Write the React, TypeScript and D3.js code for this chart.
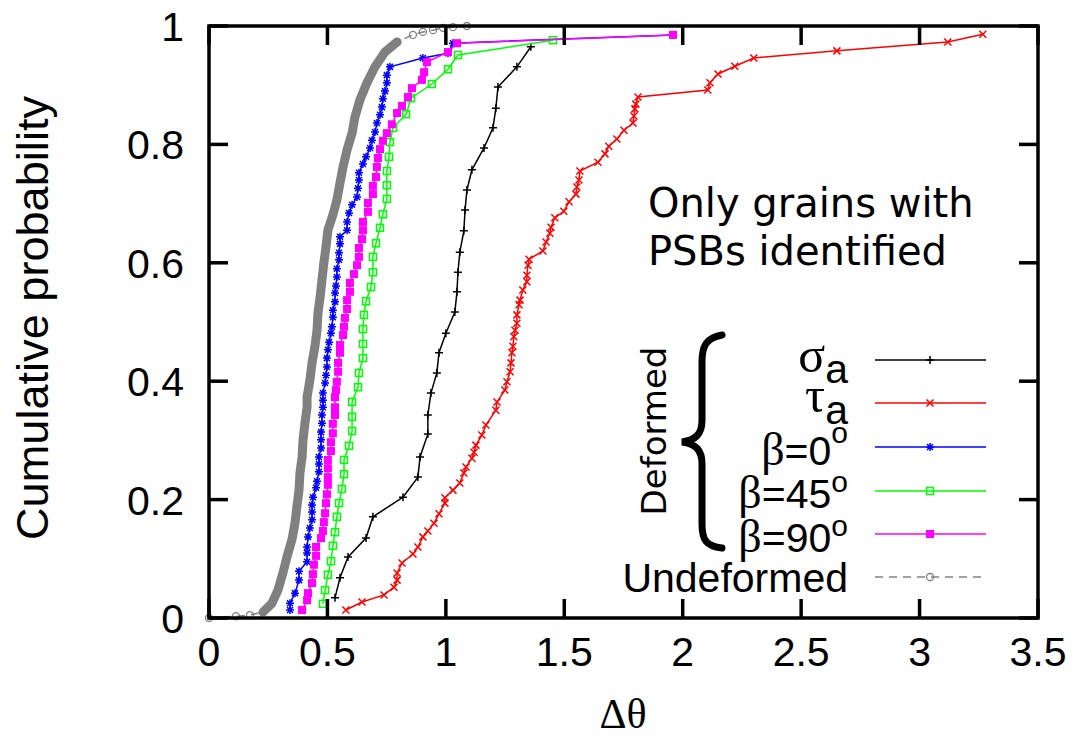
import React from "react";
import * as d3 from "d3";

type Pt = [number, number];

// [Δθ, cumulative probability]
const sigmaA: Pt[] = [
  [0.532, 0.034], [0.553, 0.068], [0.587, 0.103], [0.663, 0.135], [0.692, 0.171], [0.819, 0.204],
  [0.882, 0.238], [0.891, 0.272], [0.924, 0.311], [0.924, 0.343], [0.937, 0.38], [0.962, 0.414],
  [0.971, 0.448], [1.0, 0.481], [1.038, 0.517], [1.047, 0.551], [1.051, 0.584], [1.059, 0.618],
  [1.076, 0.654], [1.081, 0.689], [1.089, 0.723], [1.11, 0.757], [1.161, 0.794], [1.199, 0.828],
  [1.211, 0.861], [1.22, 0.897], [1.3, 0.931], [1.359, 0.965],
];

const tauA: Pt[] = [
  [0.578, 0.0135], [0.646, 0.027], [0.739, 0.039], [0.781, 0.052], [0.794, 0.064], [0.794, 0.076],
  [0.815, 0.093], [0.861, 0.108], [0.882, 0.12], [0.903, 0.137], [0.924, 0.147], [0.95, 0.16],
  [0.971, 0.176], [0.996, 0.194], [0.996, 0.203], [1.03, 0.216], [1.059, 0.228], [1.076, 0.245],
  [1.085, 0.255], [1.11, 0.27], [1.119, 0.28], [1.127, 0.292], [1.152, 0.309], [1.169, 0.326],
  [1.211, 0.351], [1.216, 0.365], [1.249, 0.385], [1.258, 0.399], [1.271, 0.416], [1.275, 0.431],
  [1.279, 0.448], [1.283, 0.459], [1.287, 0.475], [1.292, 0.486], [1.3, 0.498], [1.3, 0.512],
  [1.309, 0.529], [1.313, 0.537], [1.325, 0.554], [1.342, 0.568], [1.342, 0.579], [1.347, 0.596],
  [1.351, 0.606], [1.41, 0.62], [1.423, 0.635], [1.439, 0.65], [1.444, 0.66], [1.46, 0.676],
  [1.498, 0.687], [1.52, 0.703], [1.549, 0.716], [1.553, 0.728], [1.562, 0.74], [1.566, 0.755],
  [1.642, 0.77], [1.672, 0.784], [1.688, 0.797], [1.722, 0.809], [1.752, 0.824], [1.79, 0.836],
  [1.794, 0.848], [1.798, 0.86], [1.802, 0.868], [1.811, 0.88], [2.106, 0.892], [2.115, 0.904],
  [2.149, 0.919], [2.22, 0.932], [2.3, 0.946], [2.651, 0.958], [3.119, 0.973], [3.267, 0.986],
];

const beta0: Pt[] = [
  [0.342, 0.0135], [0.342, 0.025], [0.363, 0.042], [0.38, 0.064], [0.38, 0.079], [0.414, 0.095],
  [0.414, 0.11], [0.414, 0.12], [0.418, 0.137], [0.426, 0.152], [0.435, 0.166], [0.435, 0.179],
  [0.435, 0.191], [0.439, 0.204], [0.452, 0.22], [0.456, 0.231], [0.464, 0.247], [0.464, 0.26],
  [0.464, 0.272], [0.473, 0.287], [0.473, 0.301], [0.473, 0.314], [0.477, 0.329], [0.477, 0.343],
  [0.481, 0.356], [0.481, 0.368], [0.481, 0.38], [0.49, 0.397], [0.494, 0.41], [0.498, 0.424],
  [0.498, 0.439], [0.502, 0.453], [0.507, 0.466], [0.515, 0.481], [0.519, 0.492], [0.523, 0.508],
  [0.523, 0.52], [0.532, 0.534], [0.532, 0.549], [0.536, 0.561], [0.54, 0.576], [0.54, 0.59],
  [0.549, 0.605], [0.549, 0.617], [0.553, 0.632], [0.553, 0.644], [0.583, 0.655], [0.583, 0.669],
  [0.591, 0.684], [0.604, 0.698], [0.625, 0.711], [0.629, 0.726], [0.633, 0.74], [0.633, 0.752],
  [0.65, 0.767], [0.663, 0.779], [0.68, 0.794], [0.688, 0.807], [0.701, 0.821], [0.709, 0.836],
  [0.722, 0.85], [0.73, 0.863], [0.734, 0.877], [0.743, 0.89], [0.751, 0.904], [0.751, 0.917],
  [0.764, 0.931], [0.903, 0.946], [1.009, 0.954], [1.03, 0.971], [1.959, 0.985],
];

const beta45: Pt[] = [
  [0.481, 0.024], [0.49, 0.047], [0.502, 0.073], [0.515, 0.096], [0.523, 0.122], [0.532, 0.145],
  [0.54, 0.171], [0.549, 0.194], [0.561, 0.218], [0.57, 0.243], [0.57, 0.267], [0.591, 0.291],
  [0.604, 0.316], [0.604, 0.34], [0.604, 0.365], [0.629, 0.39], [0.633, 0.414], [0.65, 0.439],
  [0.65, 0.463], [0.65, 0.488], [0.654, 0.512], [0.663, 0.535], [0.684, 0.559], [0.692, 0.584],
  [0.692, 0.61], [0.705, 0.633], [0.722, 0.659], [0.734, 0.682], [0.751, 0.708], [0.751, 0.731],
  [0.751, 0.755], [0.76, 0.779], [0.764, 0.804], [0.777, 0.828], [0.832, 0.851], [0.853, 0.878],
  [0.941, 0.902], [1.009, 0.927], [1.051, 0.951], [1.452, 0.976],
];

const beta90: Pt[] = [
  [0.393, 0.0135], [0.414, 0.03], [0.418, 0.042], [0.435, 0.059], [0.439, 0.074], [0.443, 0.09],
  [0.452, 0.105], [0.452, 0.12], [0.473, 0.135], [0.481, 0.147], [0.485, 0.162], [0.49, 0.177],
  [0.494, 0.194], [0.498, 0.209], [0.502, 0.225], [0.502, 0.238], [0.502, 0.253], [0.502, 0.267],
  [0.515, 0.282], [0.515, 0.297], [0.523, 0.312], [0.523, 0.328], [0.532, 0.343], [0.532, 0.356],
  [0.532, 0.373], [0.536, 0.385], [0.54, 0.399], [0.545, 0.416], [0.545, 0.431], [0.553, 0.448],
  [0.553, 0.461], [0.566, 0.478], [0.57, 0.492], [0.574, 0.507], [0.583, 0.522], [0.583, 0.537],
  [0.595, 0.551], [0.595, 0.566], [0.612, 0.581], [0.625, 0.596], [0.633, 0.61], [0.633, 0.625],
  [0.646, 0.64], [0.65, 0.655], [0.65, 0.669], [0.671, 0.686], [0.671, 0.701], [0.692, 0.716],
  [0.692, 0.73], [0.705, 0.745], [0.709, 0.762], [0.713, 0.777], [0.722, 0.792], [0.734, 0.806],
  [0.751, 0.819], [0.772, 0.834], [0.794, 0.853], [0.815, 0.865], [0.84, 0.88], [0.857, 0.895],
  [0.899, 0.909], [0.908, 0.922], [0.92, 0.939], [1.009, 0.956], [1.047, 0.971], [1.959, 0.985],
];

const undeformed: Pt[] = [
  [0.0, 0.0], [0.114, 0.003], [0.173, 0.005], [0.228, 0.01], [0.266, 0.025], [0.291, 0.047],
  [0.312, 0.076], [0.329, 0.103], [0.35, 0.132], [0.363, 0.16], [0.371, 0.188], [0.38, 0.216],
  [0.384, 0.245], [0.393, 0.272], [0.397, 0.301], [0.405, 0.329], [0.414, 0.356], [0.414, 0.373],
  [0.426, 0.402], [0.435, 0.431], [0.447, 0.458], [0.456, 0.486], [0.46, 0.515], [0.469, 0.542],
  [0.477, 0.571], [0.485, 0.6], [0.494, 0.627], [0.502, 0.655], [0.523, 0.681], [0.54, 0.706],
  [0.553, 0.735], [0.566, 0.762], [0.583, 0.791], [0.604, 0.819], [0.616, 0.846], [0.637, 0.875],
  [0.667, 0.904], [0.701, 0.931], [0.743, 0.956], [0.794, 0.973], [0.861, 0.985], [0.903, 0.99],
  [0.946, 0.993], [0.988, 0.997], [1.03, 0.998], [1.089, 1.0],
];

const xTicks = [0, 0.5, 1, 1.5, 2, 2.5, 3, 3.5];
const xTickLabels = ["0", "0.5", "1", "1.5", "2", "2.5", "3", "3.5"];
const yTicks = [0, 0.2, 0.4, 0.6, 0.8, 1];
const yTickLabels = ["0", "0.2", "0.4", "0.6", "0.8", "1"];

const L = 209, R = 1038, T = 26, B = 618;
const x = d3.scaleLinear().domain([0, 3.5]).range([L, R]);
const y = d3.scaleLinear().domain([0, 1]).range([B, T]);
const line = d3.line<Pt>().x((d) => x(d[0])).y((d) => y(d[1]));

const SANS = "'Liberation Sans', Arial, Helvetica, sans-serif";
const SERIF = "'Liberation Serif', 'Times New Roman', serif";
const DEJAVU = "'DejaVu Sans', sans-serif";

type MarkerKind = "plus" | "cross" | "star" | "osq" | "fsq" | "circ";

function Marker({ kind, cx, cy, color }: { kind: MarkerKind; cx: number; cy: number; color: string }) {
  const s = 4;
  if (kind === "plus")
    return <path d={`M${cx - s},${cy}H${cx + s}M${cx},${cy - s}V${cy + s}`} stroke={color} strokeWidth={1.5} />;
  if (kind === "cross")
    return (
      <path
        d={`M${cx - 3.5},${cy - 3.5}L${cx + 3.5},${cy + 3.5}M${cx - 3.5},${cy + 3.5}L${cx + 3.5},${cy - 3.5}`}
        stroke={color}
        strokeWidth={1.5}
      />
    );
  if (kind === "star")
    return (
      <path
        d={`M${cx - s},${cy}H${cx + s}M${cx},${cy - s}V${cy + s}M${cx - 3},${cy - 3}L${cx + 3},${cy + 3}M${cx - 3},${cy + 3}L${cx + 3},${cy - 3}`}
        stroke={color}
        strokeWidth={1.5}
      />
    );
  if (kind === "osq")
    return <rect x={cx - 3.5} y={cy - 3.5} width={7} height={7} fill="none" stroke={color} strokeWidth={1.5} />;
  if (kind === "fsq") return <rect x={cx - 4} y={cy - 4} width={8} height={8} fill={color} />;
  return <circle cx={cx} cy={cy} r={3.5} fill="none" stroke={color} strokeWidth={1.3} />;
}

const series: { data: Pt[]; color: string; kind: MarkerKind }[] = [
  { data: sigmaA, color: "#000000", kind: "plus" },
  { data: tauA, color: "#ff0000", kind: "cross" },
  { data: beta0, color: "#0000ff", kind: "star" },
  { data: beta45, color: "#00ff00", kind: "osq" },
  { data: beta90, color: "#ff00ff", kind: "fsq" },
];

const legendRows = [360, 403, 447, 491, 534, 577];

export default function App() {
  return (
    <svg
      width={1080}
      height={746}
      style={{ position: "absolute", left: 0, top: 0, background: "#fff" }}
      xmlns="http://www.w3.org/2000/svg"
    >
      <rect x={0} y={0} width={1080} height={746} fill="#fff" />

      {/* series */}
      {series.map((s, i) => (
        <g key={i}>
          <path d={line(s.data) || ""} fill="none" stroke={s.color} strokeWidth={1.5} />
          {s.data.map((d, j) => (
            <Marker key={j} kind={s.kind} cx={x(d[0])} cy={y(d[1])} color={s.color} />
          ))}
        </g>
      ))}
      <g>
        <path
          d={line(undeformed.slice(3, undeformed.length - 6)) || ""}
          fill="none"
          stroke="#808080"
          strokeWidth={9}
          strokeLinejoin="round"
          strokeLinecap="round"
        />
        <path d={line(undeformed) || ""} fill="none" stroke="#808080" strokeWidth={1.5} strokeDasharray="8,6" />
        {undeformed.map((d, j) => (
          <Marker key={j} kind="circ" cx={x(d[0])} cy={y(d[1])} color="#808080" />
        ))}
      </g>

      {/* frame & ticks */}
      <rect x={L} y={T} width={R - L} height={B - T} fill="none" stroke="#000" strokeWidth={3.5} />
      {xTicks.map((t, i) => (
        <g key={i}>
          <line x1={x(t)} x2={x(t)} y1={B} y2={B - 19} stroke="#000" strokeWidth={3.5} />
          <line x1={x(t)} x2={x(t)} y1={T} y2={T + 19} stroke="#000" strokeWidth={3.5} />
          <text x={x(t)} y={666} textAnchor="middle" fontFamily={SANS} fontSize={41}>
            {xTickLabels[i]}
          </text>
        </g>
      ))}
      {yTicks.map((t, i) => (
        <g key={i}>
          <line x1={L} x2={L + 19} y1={y(t)} y2={y(t)} stroke="#000" strokeWidth={3.5} />
          <line x1={R} x2={R - 19} y1={y(t)} y2={y(t)} stroke="#000" strokeWidth={3.5} />
          <text x={184} y={y(t) + 15} textAnchor="end" fontFamily={SANS} fontSize={41}>
            {yTickLabels[i]}
          </text>
        </g>
      ))}

      {/* axis titles */}
      <text
        transform="translate(48,318) rotate(-90)"
        textAnchor="middle"
        fontFamily={SANS}
        fontSize={44}
        textLength={444}
        lengthAdjust="spacingAndGlyphs"
      >
        Cumulative probability
      </text>
      <text x={623} y={728} textAnchor="middle" fontFamily={SERIF} fontSize={42}>
        Δθ
      </text>

      {/* annotation */}
      <text x={648} y={217} fontFamily={DEJAVU} fontSize={40}>
        Only grains with
      </text>
      <text x={648} y={265} fontFamily={DEJAVU} fontSize={40}>
        PSBs identified
      </text>
      <text transform="translate(666,431) rotate(-90)" textAnchor="middle" fontFamily={DEJAVU} fontSize={34}>
        Deformed
      </text>
      <path
        d="M722,335 C706,338 702,346 702,362 L702,420 C702,434 696,440 682,442 C696,444 702,450 702,464 L702,524 C702,540 706,546 722,548"
        fill="none"
        stroke="#000"
        strokeWidth={7}
        strokeLinecap="round"
      />

      {/* legend */}
      <text x={848} y={372} textAnchor="end" fontFamily={SANS} fontSize={41}>
        <tspan fontFamily={SERIF} fontSize={50}>σ</tspan>
        <tspan dy={11}>a</tspan>
      </text>
      <text x={848} y={412} textAnchor="end" fontFamily={SANS} fontSize={41}>
        <tspan fontFamily={SERIF} fontSize={50}>τ</tspan>
        <tspan dy={12}>a</tspan>
      </text>
      <text x={848} y={465} textAnchor="end" fontFamily={SANS} fontSize={41}>
        <tspan fontFamily={SERIF} fontSize={46}>β</tspan>
        <tspan>=0</tspan>
        <tspan dy={-22} fontSize={30}>o</tspan>
      </text>
      <text x={848} y={508} textAnchor="end" fontFamily={SANS} fontSize={41}>
        <tspan fontFamily={SERIF} fontSize={46}>β</tspan>
        <tspan>=45</tspan>
        <tspan dy={-16} fontSize={30}>o</tspan>
      </text>
      <text x={848} y={552} textAnchor="end" fontFamily={SANS} fontSize={41}>
        <tspan fontFamily={SERIF} fontSize={46}>β</tspan>
        <tspan>=90</tspan>
        <tspan dy={-16} fontSize={30}>o</tspan>
      </text>
      <text x={848} y={592} textAnchor="end" fontFamily={SANS} fontSize={41}>
        Undeformed
      </text>
      {series.map((s, i) => (
        <g key={i}>
          <line x1={875} x2={986} y1={legendRows[i]} y2={legendRows[i]} stroke={s.color} strokeWidth={1.5} />
          <Marker kind={s.kind} cx={930} cy={legendRows[i]} color={s.color} />
        </g>
      ))}
      <line x1={875} x2={986} y1={legendRows[5]} y2={legendRows[5]} stroke="#808080" strokeWidth={1.5} strokeDasharray="8,6" />
      <Marker kind="circ" cx={930} cy={legendRows[5]} color="#808080" />
    </svg>
  );
}
